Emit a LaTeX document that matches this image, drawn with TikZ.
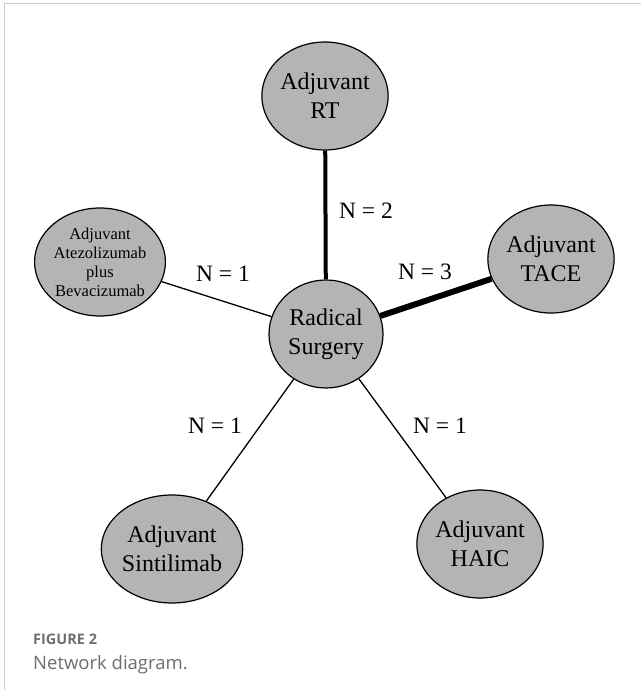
\documentclass[tikz,border=0pt]{standalone}
\usepackage{fontspec}
\setmainfont{Liberation Serif}
\newfontfamily\capfont{Open Sans}
\usetikzlibrary{shapes.geometric}
\definecolor{nodefill}{RGB}{180,180,180}
\definecolor{framegray}{RGB}{204,204,204}
\definecolor{capgray}{RGB}{110,110,110}
\begin{document}
\begin{tikzpicture}[x=1pt,y=-1pt,
  tnode/.style={ellipse,draw,line width=1.2pt,fill=nodefill,minimum width=114pt,minimum height=108pt,inner sep=0pt,align=center,font=\fontsize{24}{29}\selectfont},
  snode/.style={tnode,font=\fontsize{16.5}{19}\selectfont},
  elabel/.style={font=\fontsize{23.5}{26}\selectfont,inner sep=0pt},
  thin edge/.style={line width=1.3pt},
]
\useasboundingbox (0,0) rectangle (641,690);
\draw[framegray,line width=1pt] (4,690) -- (4,4) -- (641,4);
\node[tnode] (rt) at (325,96) {Adjuvant\\RT};
\node[tnode] (tace) at (551,259) {Adjuvant\\TACE};
\node[snode] (atezo) at (100,262) {Adjuvant\\Atezolizumab\\plus\\Bevacizumab};
\node[tnode] (surg) at (326,334) {Radical\\Surgery};
\node[tnode] (sint) at (172,549) {Adjuvant\\Sintilimab};
\node[tnode] (haic) at (480,544) {Adjuvant\\HAIC};
\draw[line width=4pt] (surg) -- (rt);
\draw[line width=6pt] (surg) -- (tace);
\draw[thin edge] (surg) -- (atezo);
\draw[thin edge] (surg) -- (sint);
\draw[thin edge] (surg) -- (haic);
\node[elabel] (l1) at (366,211) {N = 2};
\node[elabel] (l2) at (425,272) {N = 3};
\node[elabel] (l3) at (223,274) {N = 1};
\node[elabel] (l4) at (215,426) {N = 1};
\node[elabel] (l5) at (440,426) {N = 1};
\node[anchor=base west,inner sep=0pt,text=capgray,font=\capfont\bfseries\fontsize{14.5}{16}\selectfont] (fig) at (33,644) {FIGURE 2};
\node[anchor=base west,inner sep=0pt,text=capgray,font=\capfont\fontsize{18.5}{20}\selectfont] (cap) at (33,669) {Network diagram.};
\end{tikzpicture}
\end{document}
